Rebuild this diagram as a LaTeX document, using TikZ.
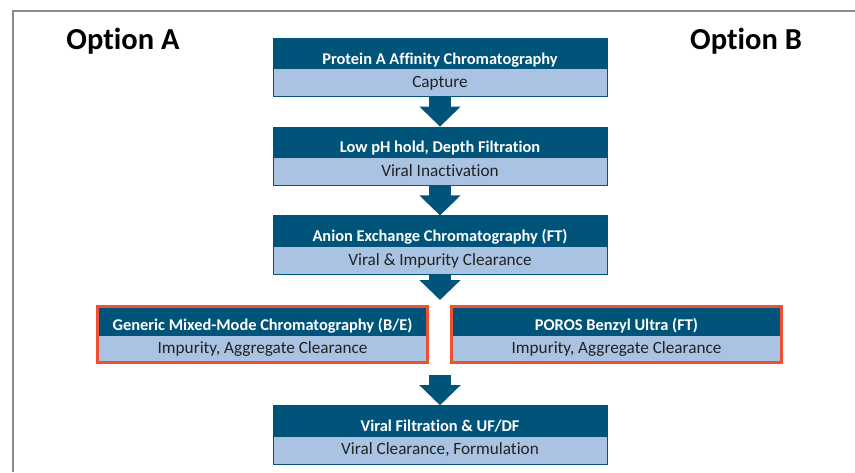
\documentclass[tikz,border=0pt]{standalone}
\usepackage{fontspec}
\setmainfont{Carlito}[Ligatures=NoCommon]
\usetikzlibrary{arrows.meta,positioning}

\definecolor{stepdark}{HTML}{00547A}
\definecolor{steplight}{HTML}{AAC3E2}
\definecolor{bodytext}{HTML}{222222}
\definecolor{optorange}{HTML}{EF5032}
\definecolor{framegrey}{HTML}{8A8A8A}

\begin{document}
\begin{tikzpicture}[x=1pt,y=-1pt]
\tikzstyle{head} = [rectangle, draw=stepdark, fill=stepdark, text=white,
font=\fontsize{16.4}{18}\selectfont\bfseries, minimum width=334pt,
minimum height=30pt, text height=24pt, text depth=2pt, inner sep=0pt]
\tikzstyle{body} = [rectangle, draw=stepdark, fill=steplight, text=bodytext,
font=\fontsize{17.2}{19}\selectfont, minimum width=334pt,
minimum height=28pt, text height=12pt, text depth=2pt, inner sep=0pt]
\tikzstyle{sidehead} = [head, minimum width=330pt, minimum height=28pt, text height=22pt]
\tikzstyle{sidebody} = [body, minimum width=330pt, minimum height=27pt, text height=13pt]
\tikzstyle{optframe} = [draw=optorange, line width=3pt]
\tikzstyle{optlabel} = [font=\fontsize{30.5}{34}\selectfont\bfseries, text=black, inner sep=0pt]
\tikzstyle{blockarrow} = [draw=stepdark, line width=22pt, -{Triangle[width=40pt,length=20pt]}]

\useasboundingbox (0,0) rectangle (855,472);
\draw[framegrey, line width=2pt] (13,472) |- (855,11);

% options
\node[optlabel] (opta) at (123,41) {Option A};
\node[optlabel] (optb) at (746,41) {Option B};

% step 1
\node[head] (protah) at (440,53) {Protein A Affinity Chromatography};
\node[body, below=0pt of protah] (captb) {Capture};
% step 2
\node[head, below=30pt of captb] (lowph) {Low pH hold, Depth Filtration};
\node[body, below=0pt of lowph] (inactb) {Viral Inactivation};
% step 3
\node[head, below=30pt of inactb] (aexh) {Anion Exchange Chromatography (FT)};
\node[body, below=0pt of aexh] (clearb) {Viral \& Impurity Clearance};
% step 4, option A and option B
\node[sidehead] (mixh) at (262.5,320.5) {Generic Mixed-Mode Chromatography (B/E)};
\node[sidebody, below=0pt of mixh] (mixb) {Impurity, Aggregate Clearance};
\draw[optframe] (mixh.north west) rectangle (mixb.south east);
\node[sidehead] (benh) at (616.5,320.5) {POROS Benzyl Ultra (FT)};
\node[sidebody, below=0pt of benh] (benb) {Impurity, Aggregate Clearance};
\draw[optframe] (benh.north west) rectangle (benb.south east);
% step 5
\node[head, below=131pt of clearb] (vfh) {Viral Filtration \& UF/DF};
\node[body, below=0pt of vfh] (formb) {Viral Clearance, Formulation};

\coordinate (split) at (440,300);
\coordinate (join) at (440,375);

\tikzstyle{every path}=[blockarrow]
\path (captb) -- (lowph);
\path (inactb) -- (aexh);
\path (clearb) -- (split);
\path (join) -- (vfh);

\end{tikzpicture}
\end{document}
